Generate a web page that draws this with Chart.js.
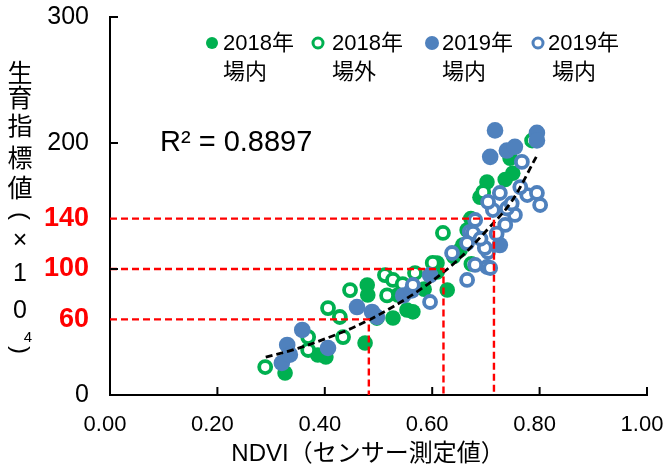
<!DOCTYPE html>
<html><head><meta charset="utf-8">
<script src="https://cdn.jsdelivr.net/npm/chart.js@4"></script>
<style>html,body{margin:0;padding:0;background:#fff}</style>
</head><body>
<canvas id="c" width="663" height="466"></canvas>
<script>
// ---------- data ----------
const seriesNames = [['2018年','場内'],['2018年','場外'],['2019年','場内'],['2019年','場内']];

const in2018X = [0.326,0.387,0.402,0.475,0.479,0.480,0.527,0.553,0.536,0.609,0.628,0.657,0.652,0.609,0.702,0.689,0.750,0.665,0.736,0.564,0.745,0.672,0.640,0.585];
const in2018Y = [17.5,31.7,30.2,41.3,87.3,79.4,61.1,67.5,79.4,97.6,83.3,119,115,104.8,169,157,176,131,171,66,188,140,110,84];

const out2018X = [0.289,0.369,0.369,0.406,0.434,0.428,0.447,0.512,0.516,0.527,0.497,0.568,0.601,0.620,0.673,0.695,0.786,0.545];
const out2018Y = [22.2,46,35.7,69,46,61.9,83.3,95.2,79,91.3,61.1,96.8,104.8,128.6,104,161,202,88];

const in2019X = [0.320,0.330,0.335,0.358,0.406,0.460,0.488,0.497,0.546,0.562,0.596,0.726,0.717,0.795,0.708,0.739,0.754,0.795];
const in2019Y = [25.4,39.7,32,51.6,37.3,69.8,65.9,61.9,79,83,95.2,119,210,208,189,194,197,202];

const out2019X = [0.564,0.596,0.637,0.665,0.704,0.702,0.670,0.680,0.698,0.708,0.680,0.713,0.704,0.726,0.754,0.777,0.795,0.764,0.767,0.676,0.665,0.801,0.736,0.739,0.690,0.720,0.748];
const out2019Y = [87.3,73.8,112.7,91.3,113.5,101.6,129.4,138.9,116.7,100.8,103.2,146.8,153.2,160.3,142.9,158.7,160.3,165,185,128.6,120.6,150.8,135,148,124,128,152];

const trendX = [0.29,0.35,0.40,0.45,0.50,0.55,0.60,0.65,0.70,0.75,0.795];
const trendY = [30,37,44.5,53,63.5,76,90.5,108,130,155,190];

const guideY = [60,100,140];
const guideX = [0.482,0.621,0.715];

const xTicks = [0,0.2,0.4,0.6,0.8,1.0];
const yTicks = [0,60,100,140,200,300];
const yRedTicks = [60,100,140];
const yMajor = [100,200,300];

const r2Text = 'R² = 0.8897';
const xTitle = 'NDVI（センサー測定値）';
const yTitleChars = ['生','育','指','標','値','(','×','1','0','4',')'];

// ---------- helpers ----------
const FONT = '"Liberation Sans", Arial, "Noto Sans CJK JP", sans-serif';
const GREEN = '#00B050', BLUE = '#4F81BD', RED = '#FF0000';
const pts = (xs, ys) => xs.map((x,i)=>({x, y: ys[i]}));
const isRed = c => !!(c && c.tick && yRedTicks.includes(c.tick.value));

const guideSets = guideX.map((gx,i)=>({
  data: [{x:0,y:guideY[i]},{x:gx,y:guideY[i]},{x:gx,y:0}],
  showLine:true, borderColor:RED, borderWidth:2.4, borderDash:[7,4],
  pointRadius:0, fill:false, order:0
}));

const openPt = c => ({pointRadius:6, pointBorderWidth:3.8, borderWidth:3.8, pointBackgroundColor:'#fff', pointBorderColor:c, borderColor:c, showLine:false});
const fillPt = (c,r) => ({pointRadius:r, pointBorderWidth:0, pointBackgroundColor:c, pointBorderColor:c, backgroundColor:c, showLine:false});

const datasets = [
  ...guideSets,
  {data: pts(trendX,trendY), showLine:true, borderColor:'#000', borderWidth:2.8, borderDash:[7,4],
   pointRadius:0, tension:0.4, cubicInterpolationMode:'monotone', fill:false, order:1},
  {label:'out2019', data: pts(out2019X,out2019Y), ...openPt(BLUE), order:2},
  {label:'in2019', data: pts(in2019X,in2019Y), ...fillPt(BLUE,8.3), order:3},
  {label:'out2018', data: pts(out2018X,out2018Y), ...openPt(GREEN), order:4},
  {label:'in2018', data: pts(in2018X,in2018Y), ...fillPt(GREEN,7.8), order:5},
];

const decor = {
  id:'decor',
  afterDraw(chart){
    const {ctx, scales:{x,y}} = chart;
    ctx.save();
    ctx.strokeStyle='#000'; ctx.lineWidth=2;
    xTicks.slice(1).forEach(v=>{
      const px = x.getPixelForValue(v);
      ctx.beginPath(); ctx.moveTo(px, y.bottom); ctx.lineTo(px, y.bottom-8); ctx.stroke();
    });
    yMajor.forEach(v=>{
      const py = y.getPixelForValue(v);
      ctx.beginPath(); ctx.moveTo(x.left, py); ctx.lineTo(x.left+8, py); ctx.stroke();
    });
    ctx.fillStyle='#000'; ctx.textBaseline='middle'; ctx.textAlign='left';
    ctx.font = '29px '+FONT;
    ctx.fillText(r2Text, 160, 143);
    ctx.textAlign='center';
    ctx.font = '24px '+FONT;
    ctx.fillText(xTitle, 368, 454);
    const yPos = [75,100,128,160,190,216,241,274,311,338,350];
    yTitleChars.forEach((ch,i)=>{
      let fx = 20, fs = 25;
      if (ch==='4'){ fx = 28; fs = 15; }
      ctx.font = fs+'px '+FONT;
      if (ch==='(' || ch===')'){
        ctx.save();
        ctx.translate(fx, yPos[i]);
        ctx.rotate(Math.PI/2);
        ctx.font = '24px '+FONT;
        ctx.fillText(ch, 0, 0);
        ctx.restore();
      } else {
        ctx.fillText(ch, fx, yPos[i]);
      }
    });
    const legendItems = [
      {mx:212, tx:223, t2x:223, fill:GREEN, stroke:null, r:6},
      {mx:318, tx:332, t2x:332, fill:'#fff', stroke:GREEN, r:5},
      {mx:432, tx:442, t2x:442, fill:BLUE, stroke:null, r:7},
      {mx:538, tx:548, t2x:552, fill:'#fff', stroke:BLUE, r:5},
    ];
    legendItems.forEach((it,i)=>{
      ctx.beginPath(); ctx.arc(it.mx, 43, it.r, 0, Math.PI*2);
      ctx.fillStyle = it.fill; ctx.fill();
      if (it.stroke){ ctx.lineWidth=3; ctx.strokeStyle=it.stroke; ctx.stroke(); }
      ctx.fillStyle='#000'; ctx.textAlign='left'; ctx.font='22px '+FONT;
      ctx.fillText(seriesNames[i][0], it.tx, 44);
      ctx.fillText(seriesNames[i][1], it.t2x, 73);
    });
    ctx.restore();
  }
};

new Chart(document.getElementById('c'), {
  type:'scatter',
  data:{datasets},
  options:{
    responsive:false, animation:false,
    layout:{padding:{left:0,right:16,top:17,bottom:0}},
    plugins:{legend:{display:false}, tooltip:{enabled:false}},
    scales:{
      x:{type:'linear', min:0, max:1,
        afterBuildTicks:s=>{s.ticks = xTicks.map(v=>({value:v}));},
        afterFit:s=>{s.height=71; s.paddingLeft=0; s.paddingRight=0;},
        grid:{display:false, drawTicks:false},
        border:{display:true, color:'#000', width:2},
        ticks:{padding:17, labelOffset:-5, maxRotation:0, autoSkip:false, color:'#000',
          font:{size:22, family:FONT}, callback:v=>Number(v).toFixed(2)}
      },
      y:{type:'linear', min:0, max:300,
        afterBuildTicks:s=>{s.ticks = yTicks.map(v=>({value:v}));},
        afterFit:s=>{s.width=110; s.paddingTop=0; s.paddingBottom=0;},
        grid:{display:false, drawTicks:false},
        border:{display:true, color:'#000', width:2},
        ticks:{padding:21, autoSkip:false,
          color:c=> isRed(c) ? RED : '#000',
          font:c=> isRed(c) ? {size:27, weight:'bold', family:FONT} : {size:25, family:FONT},
          callback:v=>String(v)}
      }
    }
  },
  plugins:[decor]
});
</script>
</body></html>
